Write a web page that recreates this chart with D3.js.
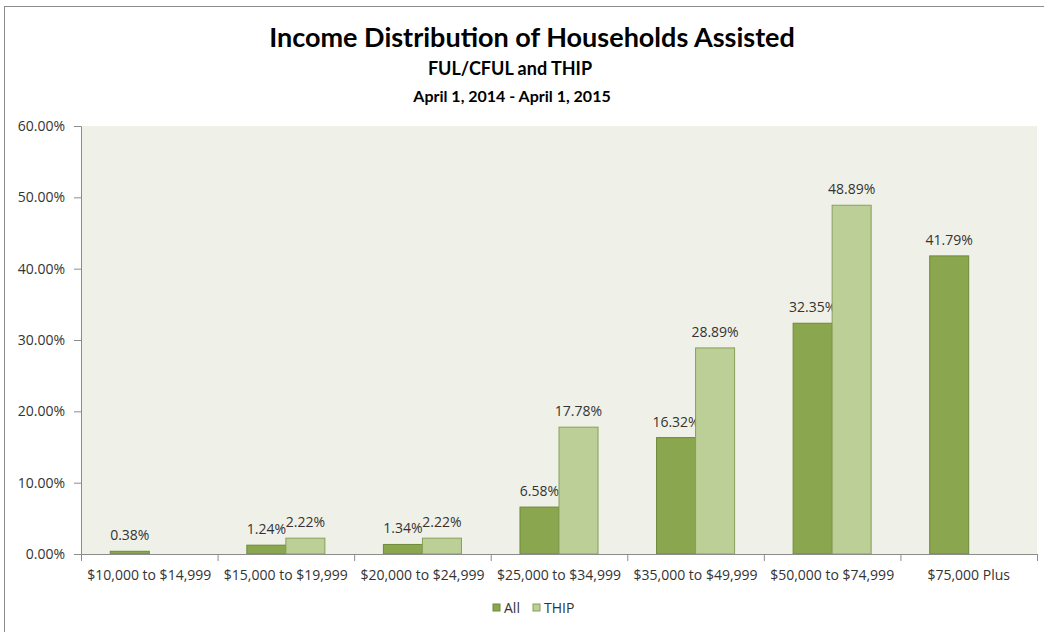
<!doctype html>
<html>
<head>
<script src="https://d3js.org/d3.v7.min.js"></script>
<style>
  body { margin: 0; background: #fff; }
  text { font-family: "Open Sans", "Noto Sans", sans-serif; fill: #333; }
  .title text { fill: #000; font-weight: 700; font-family: Lato, "Open Sans", sans-serif; }
  .axis path, .axis line { stroke: #8c8c8c; }
  .axis text { font-size: 14px; fill: #333; }
  .value { font-size: 14px; }
</style>
</head>
<body>
<svg id="chart" width="1044" height="632"></svg>
<script>
  // chart data
  const categories = ['$10,000 to $14,999', '$15,000 to $19,999', '$20,000 to $24,999',
    '$25,000 to $34,999', '$35,000 to $49,999', '$50,000 to $74,999', '$75,000 Plus'];
  const seriesNames = ['All', 'THIP'];
  const allValues = [0.38, 1.24, 1.34, 6.58, 16.32, 32.35, 41.79];
  const thipValues = [null, 2.22, 2.22, 17.78, 28.89, 48.89, null];
  const yTicks = [0, 10, 20, 30, 40, 50, 60];

  const colors = { All: '#8aa64f', THIP: '#bccf97' };
  const strokes = { All: '#6e8a3a', THIP: '#87a05a' };

  const svg = d3.select('#chart');

  // outer chart border
  svg.append('rect')
    .attr('x', 4.5).attr('y', 6.5)
    .attr('width', 1060).attr('height', 640)
    .attr('fill', '#fff').attr('stroke', '#8c8c8c');

  const plot = { left: 81, right: 1037, top: 126, bottom: 554 };

  const x = d3.scaleBand().domain(categories).range([plot.left, plot.right]);
  // Excel-like gap width 150%
  const barW = x.bandwidth() / 3.5;
  const gap = x.bandwidth() - 2 * barW;
  const xSub = d3.scaleBand().domain(seriesNames)
    .range([gap / 2, gap / 2 + 2 * barW]);

  const y = d3.scaleLinear().domain([0, 60]).range([plot.bottom, plot.top]);

  // plot area background
  svg.append('rect')
    .attr('x', plot.left).attr('y', plot.top)
    .attr('width', plot.right - plot.left).attr('height', plot.bottom - plot.top)
    .attr('fill', '#eff1e8');

  // titles
  const title = svg.append('g').attr('class', 'title').attr('text-anchor', 'middle');
  title.append('text').attr('x', 532).attr('y', 47).style('font-size', '27px')
    .text('Income Distribution of Households Assisted');
  title.append('text').attr('x', 510).attr('y', 75).style('font-size', '18px')
    .text('FUL/CFUL and THIP');
  title.append('text').attr('x', 512).attr('y', 102).style('font-size', '16px')
    .text('April 1, 2014 - April 1, 2015');

  // y axis
  svg.append('g').attr('class', 'axis')
    .attr('transform', `translate(${plot.left},0)`)
    .call(d3.axisLeft(y).tickValues(yTicks).tickSize(7).tickPadding(9)
      .tickFormat(d => d.toFixed(2) + '%'));

  // x axis with ticks at category boundaries
  const xAxis = svg.append('g').attr('class', 'axis')
    .attr('transform', `translate(0,${plot.bottom})`)
    .call(d3.axisBottom(x).tickSize(0).tickPadding(16));
  xAxis.selectAll('.tick line').remove();
  const bounds = categories.map(c => x(c)).concat([plot.right]);
  xAxis.selectAll('line.bound').data(bounds).enter().append('line')
    .attr('class', 'bound')
    .attr('x1', d => d + 0.5).attr('x2', d => d + 0.5)
    .attr('y1', 0).attr('y2', 7);

  // bars
  const rows = categories.map((c, i) => ({ cat: c, All: allValues[i], THIP: thipValues[i] }));
  const groups = svg.selectAll('g.cat').data(rows).enter().append('g')
    .attr('class', 'cat')
    .attr('transform', d => `translate(${x(d.cat)},0)`);

  seriesNames.forEach(s => {
    groups.filter(d => d[s] != null).append('rect')
      .attr('x', xSub(s)).attr('width', xSub.bandwidth())
      .attr('y', d => y(d[s])).attr('height', d => y(0) - y(d[s]))
      .attr('fill', colors[s]).attr('stroke', strokes[s]).attr('stroke-width', 1);
    groups.filter(d => d[s] != null).append('text')
      .attr('class', 'value')
      .attr('x', xSub(s) + xSub.bandwidth() / 2)
      .attr('y', d => y(d[s]) - 11)
      .attr('text-anchor', 'middle')
      .text(d => d[s].toFixed(2) + '%');
  });

  // redraw x axis line on top of bars
  svg.append('line')
    .attr('x1', plot.left).attr('x2', plot.right)
    .attr('y1', plot.bottom + 0.5).attr('y2', plot.bottom + 0.5)
    .attr('stroke', '#8c8c8c');

  // legend
  const legend = svg.append('g').attr('transform', 'translate(493,604)');
  const lx = [0, 40];
  seriesNames.forEach((s, i) => {
    legend.append('rect').attr('x', lx[i]).attr('y', 0).attr('width', 7).attr('height', 7)
      .attr('fill', colors[s]).attr('stroke', strokes[s]);
    legend.append('text').attr('x', lx[i] + 11).attr('y', 9)
      .style('font-size', '14px').text(s);
  });
</script>
</body>
</html>
